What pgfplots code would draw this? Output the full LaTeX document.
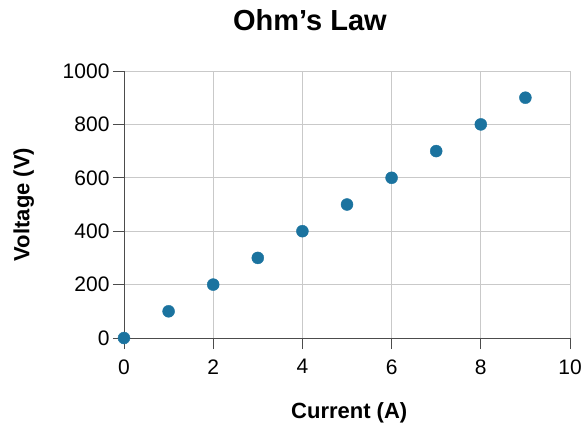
\documentclass[border=0pt]{standalone}
\usepackage{pgfplots}
\pgfplotsset{compat=1.18}
\usepackage{fontspec}
\setmainfont{Liberation Sans}
\definecolor{dotc}{HTML}{1B739F}
\begin{document}
\begin{tikzpicture}
\begin{axis}[
  name=ax,
  scale only axis,
  width=446pt, height=267pt,
  xmin=0, xmax=10, ymin=0, ymax=1000,
  xtick={0,2,4,6,8,10},
  ytick={0,200,400,600,800,1000},
  axis x line=bottom, axis y line=left,
  axis line style={-, draw=black!70, line width=0.9pt},
  tick align=outside,
  major tick length=11pt,
  tick style={draw=black!70, line width=0.9pt},
  grid=major,
  grid style={draw=black!21, line width=0.9pt},
  /pgf/number format/assume math mode=true,
  /pgf/number format/1000 sep={},
  ticklabel style={font=\fontsize{21}{24}\selectfont},
  xticklabel style={yshift=-7pt},
  xlabel={\textbf{Current (A)}},
  ylabel={\textbf{Voltage (V)}},
  xlabel style={font=\fontsize{22}{26}\selectfont, at={(axis description cs:0.505,0)}, anchor=base, yshift=-80pt},
  ylabel style={font=\fontsize{22}{26}\selectfont, at={(axis description cs:-0.212,0.5)}, anchor=base, rotate=0},
  title={\textbf{Ohm’s Law}},
  title style={font=\fontsize{29}{34}\selectfont, at={(axis description cs:0.417,1)}, anchor=base, yshift=34pt},
  clip=false,
]
\addplot[only marks, mark=*, mark size=6pt, mark options={draw=dotc, fill=dotc}]
coordinates {(0,0) (1,100) (2,200) (3,300) (4,400) (5,500) (6,600) (7,700) (8,800) (9,900)};
\end{axis}
\pgfresetboundingbox
\path[use as bounding box] ([shift={(-124pt,-85pt)}]ax.south west) rectangle ([shift={(16pt,71pt)}]ax.north east);
\end{tikzpicture}
\end{document}
